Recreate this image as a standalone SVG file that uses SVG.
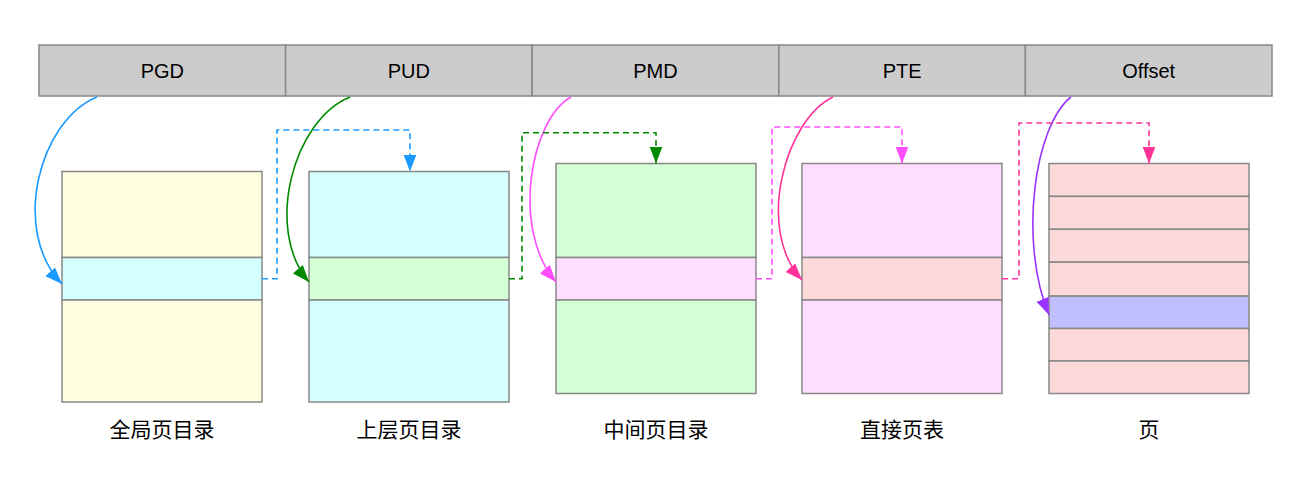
<svg xmlns="http://www.w3.org/2000/svg" width="1291" height="484" viewBox="0 0 1291 484">
<style>
.bar{fill:#cccccc;stroke:#888888;stroke-width:1.5}
.t{stroke:#888888;stroke-width:1.5}
.lbl{font-family:"Liberation Sans",Arial,sans-serif;font-size:20px;fill:#000;text-anchor:middle}
.cap{font-family:"Noto Sans CJK SC","Liberation Sans",sans-serif;font-size:21px;fill:#000;text-anchor:middle}
.c{fill:none;stroke-width:1.6}
.d{fill:none;stroke-width:1.6;stroke-dasharray:6 4}
</style>
<defs>
<marker id="mb" markerUnits="userSpaceOnUse" markerWidth="18" markerHeight="14" refX="17" refY="6.5" orient="auto"><path d="M0,0 L17,6.5 L0,13 z" fill="#1a99ff"/></marker>
<marker id="mg" markerUnits="userSpaceOnUse" markerWidth="18" markerHeight="14" refX="17" refY="6.5" orient="auto"><path d="M0,0 L17,6.5 L0,13 z" fill="#008a00"/></marker>
<marker id="mm" markerUnits="userSpaceOnUse" markerWidth="18" markerHeight="14" refX="17" refY="6.5" orient="auto"><path d="M0,0 L17,6.5 L0,13 z" fill="#ff4dff"/></marker>
<marker id="mp" markerUnits="userSpaceOnUse" markerWidth="18" markerHeight="14" refX="17" refY="6.5" orient="auto"><path d="M0,0 L17,6.5 L0,13 z" fill="#ff3399"/></marker>
<marker id="mv" markerUnits="userSpaceOnUse" markerWidth="18" markerHeight="14" refX="17" refY="6.5" orient="auto"><path d="M0,0 L17,6.5 L0,13 z" fill="#9933ff"/></marker>
</defs>
<rect width="1291" height="484" fill="#ffffff"/>

<g id="bar">
<g id="bar-pgd"><rect class="bar" x="39" y="45" width="246.6" height="51"/><text class="lbl" x="162.3" y="77.5">PGD</text></g>
<g id="bar-pud"><rect class="bar" x="285.6" y="45" width="246.6" height="51"/><text class="lbl" x="408.9" y="77.5">PUD</text></g>
<g id="bar-pmd"><rect class="bar" x="532.2" y="45" width="246.6" height="51"/><text class="lbl" x="655.5" y="77.5">PMD</text></g>
<g id="bar-pte"><rect class="bar" x="778.8" y="45" width="246.6" height="51"/><text class="lbl" x="902.1" y="77.5">PTE</text></g>
<g id="bar-offset"><rect class="bar" x="1025.4" y="45" width="246.6" height="51"/><text class="lbl" x="1148.7" y="77.5">Offset</text></g>
</g>

<g id="pgd-table">
<rect class="t" x="62" y="171.5" width="200" height="86" fill="#fffde0"/>
<rect class="t" x="62" y="257.5" width="200" height="42.5" fill="#d4ffff"/>
<rect class="t" x="62" y="300" width="200" height="102" fill="#fffde0"/>
<text class="cap" x="162" y="437">全局页目录</text>
</g>

<g id="pud-table">
<rect class="t" x="309" y="171.5" width="200" height="86" fill="#d4ffff"/>
<rect class="t" x="309" y="257.5" width="200" height="42.5" fill="#d5ffd5"/>
<rect class="t" x="309" y="300" width="200" height="102" fill="#d4ffff"/>
<text class="cap" x="409" y="437">上层页目录</text>
</g>

<g id="pmd-table">
<rect class="t" x="556" y="163.5" width="200" height="94" fill="#d5ffd5"/>
<rect class="t" x="556" y="257.5" width="200" height="42.5" fill="#ffddff"/>
<rect class="t" x="556" y="300" width="200" height="93.5" fill="#d5ffd5"/>
<text class="cap" x="656" y="437">中间页目录</text>
</g>

<g id="pte-table">
<rect class="t" x="802" y="163.5" width="200" height="94" fill="#ffddff"/>
<rect class="t" x="802" y="257.5" width="200" height="42.5" fill="#fdd9d9"/>
<rect class="t" x="802" y="300" width="200" height="93.5" fill="#ffddff"/>
<text class="cap" x="902" y="437">直接页表</text>
</g>

<g id="page">
<rect class="t" x="1049" y="163.5" width="200" height="32.9" fill="#fdd9d9"/>
<rect class="t" x="1049" y="196.4" width="200" height="32.9" fill="#fdd9d9"/>
<rect class="t" x="1049" y="229.3" width="200" height="32.9" fill="#fdd9d9"/>
<rect class="t" x="1049" y="262.2" width="200" height="33.9" fill="#fdd9d9"/>
<rect class="t" x="1049" y="296.1" width="200" height="32.4" fill="#bfbfff"/>
<rect class="t" x="1049" y="328.5" width="200" height="32.5" fill="#fdd9d9"/>
<rect class="t" x="1049" y="361" width="200" height="32.5" fill="#fdd9d9"/>
<text class="cap" x="1149" y="437">页</text>
</g>

<g id="connectors">
<path class="c" stroke="#1a99ff" d="M97,97 C40,120 10,230 62,284" marker-end="url(#mb)"/>
<path class="c" stroke="#008a00" d="M350,97 C293,120 264,230 309,282" marker-end="url(#mg)"/>
<path class="c" stroke="#ff4dff" d="M571,97 C530,120 511,230 556,282" marker-end="url(#mm)"/>
<path class="c" stroke="#ff3399" d="M833,97 C785,120 755,230 802,280" marker-end="url(#mp)"/>
<path class="c" stroke="#9933ff" d="M1071,97 C1035,125 1018,240 1049,315" marker-end="url(#mv)"/>
<path class="d" stroke="#1a99ff" d="M262,278.7 H277 V130 H410 V171.5" marker-end="url(#mb)"/>
<path class="d" stroke="#008a00" d="M509,278.7 H522 V132.7 H656 V163.5" marker-end="url(#mg)"/>
<path class="d" stroke="#ff4dff" d="M756,278.7 H772 V127 H902 V163.5" marker-end="url(#mm)"/>
<path class="d" stroke="#ff3399" d="M1002,278.7 H1019 V123 H1149 V163.5" marker-end="url(#mp)"/>
</g>
</svg>
